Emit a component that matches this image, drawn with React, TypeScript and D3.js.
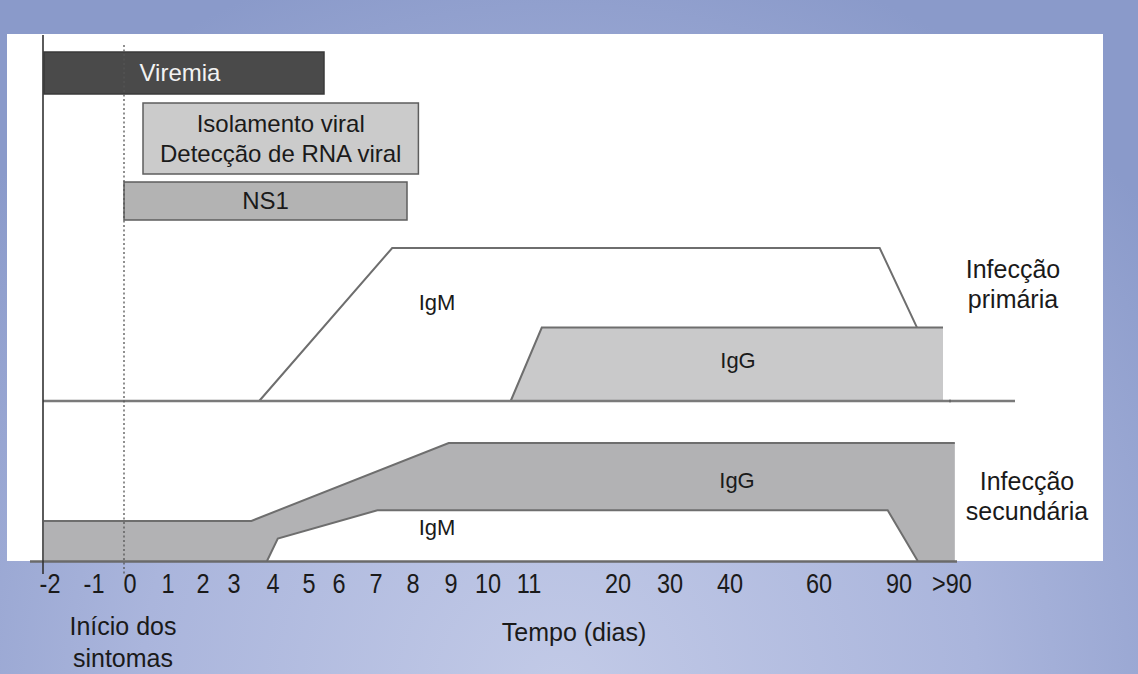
import React from "react";
import * as d3 from "d3";

// ---- Data ----
const tickValues = [-2, -1, 0, 1, 2, 3, 4, 5, 6, 7, 8, 9, 10, 11, 20, 30, 40, 60, 90, 120];
const tickLabels = ["-2", "-1", "0", "1", "2", "3", "4", "5", "6", "7", "8", "9", "10", "11", "20", "30", "40", "60", "90", ">90"];

// detection windows (days)
const windowNames = ["Viremia", "Isolamento viral|Detecção de RNA viral", "NS1"];
const windowStart = [-2, 0.5, 0];
const windowEnd = [5.7, 8.3, 8.0];

// primary infection (relative level 0..1)
const primIgMDays = [3.8, 7.6, 85, 103.6];
const primIgMLevel = [0, 1, 1, 0.48];
const primIgGDays = [10.7, 12.9, 118.3, 118.3];
const primIgGLevel = [0, 0.48, 0.48, 0];

// secondary infection (relative level 0..1)
const secIgGDays = [-2, 3.6, 9.1, 125];
const secIgGLevel = [0.34, 0.34, 1, 1];
const secIgMDays = [4.0, 4.3, 7.2, 88, 104];
const secIgMLevel = [0, 0.19, 0.43, 0.43, 0];

// ---- Layout ----
const W = 1138;
const H = 674;
const tickPos = [44, 88, 124, 162, 197, 228, 267, 303, 333, 370, 407, 445, 482, 523, 612, 664, 724, 813, 893, 946];
const barRows = [
  { y: 52, h: 42, fill: "#4a4a4a", stroke: "#3a3a3a", text: "#f2f2f2" },
  { y: 103, h: 71, fill: "#cbcbcb", stroke: "#5e5e5e", text: "#1a1a1a" },
  { y: 182, h: 38, fill: "#b3b3b3", stroke: "#5e5e5e", text: "#1a1a1a" },
];
const FONT = "'Liberation Sans', Arial, Helvetica, sans-serif";

export default function App() {
  const x = d3.scaleLinear().domain(tickValues).range(tickPos);
  const yP = d3.scaleLinear().domain([0, 1]).range([401, 248]);
  const yS = d3.scaleLinear().domain([0, 1]).range([561, 443]);

  const pts = (days: number[], lv: number[]) => days.map((d, i) => [d, lv[i]] as [number, number]);

  const lineP = d3.line<[number, number]>().x((d) => x(d[0])).y((d) => yP(d[1]));
  const areaP = d3.area<[number, number]>().x((d) => x(d[0])).y0(yP(0)).y1((d) => yP(d[1]));
  const lineS = d3.line<[number, number]>().x((d) => x(d[0])).y((d) => yS(d[1]));
  const areaS = d3.area<[number, number]>().x((d) => x(d[0])).y0(yS(0)).y1((d) => yS(d[1]));

  const primIgM = pts(primIgMDays, primIgMLevel);
  const primIgG = pts(primIgGDays, primIgGLevel);
  const secIgG = pts(secIgGDays, secIgGLevel);
  const secIgM = pts(secIgMDays, secIgMLevel);

  const lineColor = "#6e6e6e";

  return (
    <>
      <style>{`body{margin:0;}`}</style>
      <svg width={W} height={H} style={{ display: "block" }} fontFamily={FONT}>
        <defs>
          <radialGradient id="bg" cx="560" cy="690" r="760" gradientUnits="userSpaceOnUse">
            <stop offset="0" stopColor="#c2cae7" />
            <stop offset="0.55" stopColor="#aab5dc" />
            <stop offset="1" stopColor="#8a9aca" />
          </radialGradient>
        </defs>
        <rect x={0} y={0} width={W} height={H} fill="url(#bg)" />
        <rect x={7} y={34} width={1096} height={527} fill="#ffffff" />

        {/* detection windows */}
        {windowNames.map((name, i) => {
          const r = barRows[i];
          const x0 = x(windowStart[i]);
          const x1 = x(windowEnd[i]);
          const lines = name.split("|");
          const cx = i === 0 ? 180 : (x0 + x1) / 2;
          return (
            <g key={name}>
              <rect x={x0} y={r.y} width={x1 - x0} height={r.h} fill={r.fill} stroke={r.stroke} strokeWidth={1.5} />
              {lines.map((t, j) => (
                <text
                  key={t}
                  x={cx}
                  y={r.y + r.h / 2 + 8 + (j - (lines.length - 1) / 2) * 30}
                  textAnchor="middle"
                  fontSize={24}
                  fill={r.text}
                >
                  {t}
                </text>
              ))}
            </g>
          );
        })}

        {/* primary infection */}
        <path d={areaP(primIgM) || ""} fill="#ffffff" />
        <path d={lineP(primIgM) || ""} fill="none" stroke={lineColor} strokeWidth={2} />
        <path d={areaP(primIgG) || ""} fill="#c9c9ca" />
        <path d={lineP(primIgG.slice(0, 3)) || ""} fill="none" stroke={lineColor} strokeWidth={2} />
        <line x1={x(-2) - 1} x2={1015} y1={yP(0)} y2={yP(0)} stroke="#7a7a7a" strokeWidth={2.5} />
        <line x1={x(120) + 4} x2={x(120) + 4} y1={yP(0) - 1.5} y2={yP(0) + 1.5} stroke="#555" strokeWidth={1} />
        <text x={437} y={310} textAnchor="middle" fontSize={22} fill="#1a1a1a">IgM</text>
        <text x={738} y={368} textAnchor="middle" fontSize={22} fill="#1a1a1a">IgG</text>

        {/* secondary infection */}
        <path d={areaS(secIgG) || ""} fill="#b2b2b4" />
        <path d={lineS(secIgG) || ""} fill="none" stroke={lineColor} strokeWidth={2} />
        <path d={areaS(secIgM) || ""} fill="#ffffff" />
        <path d={lineS(secIgM) || ""} fill="none" stroke={lineColor} strokeWidth={2} />
        <text x={737} y={488} textAnchor="middle" fontSize={22} fill="#1a1a1a">IgG</text>
        <text x={437} y={535} textAnchor="middle" fontSize={22} fill="#1a1a1a">IgM</text>

        {/* infection labels */}
        <text textAnchor="middle" fontSize={25} fill="#1a1a1a">
          <tspan x={1013} y={278}>Infecção</tspan>
          <tspan x={1013} y={308}>primária</tspan>
        </text>
        <text textAnchor="middle" fontSize={25} fill="#1a1a1a">
          <tspan x={1027} y={490}>Infecção</tspan>
          <tspan x={1027} y={520}>secundária</tspan>
        </text>

        {/* axes */}
        <line x1={30} x2={957} y1={561.5} y2={561.5} stroke="#6a6a6a" strokeWidth={2.5} />
        <line x1={43} x2={43} y1={35} y2={574} stroke="#333" strokeWidth={1.6} />
        <line x1={x(0)} x2={x(0)} y1={45} y2={576} stroke="#555" strokeWidth={1.3} strokeDasharray="2,2.5" />

        {tickValues.map((v, i) => (
          <text
            key={v}
            transform={`translate(${x(v) + 6},${593}) scale(0.87,1)`}
            textAnchor="middle"
            fontSize={27}
            fill="#1a1a1a"
          >
            {tickLabels[i]}
          </text>
        ))}

        <text textAnchor="middle" fontSize={25} fill="#1a1a1a">
          <tspan x={123} y={635}>Início dos</tspan>
          <tspan x={123} y={667}>sintomas</tspan>
        </text>
        <text x={574} y={641} textAnchor="middle" fontSize={25} fill="#1a1a1a">Tempo (dias)</text>
      </svg>
    </>
  );
}
